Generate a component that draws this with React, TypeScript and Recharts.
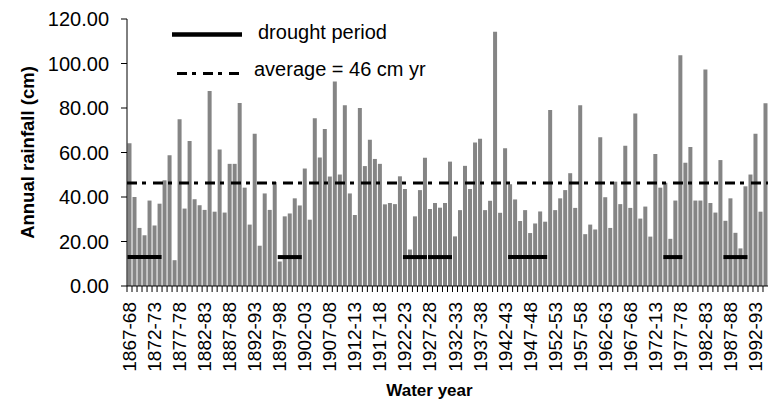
import { ComposedChart, Bar, XAxis, YAxis, ReferenceLine, Legend } from 'recharts';

// annual rainfall (cm), one value per water year starting 1867-68
const firstYear = 1867;
const rainfall = [
  64.2, 40.0, 26.1, 22.8, 38.4, 27.2, 37.0, 47.5, 58.8, 11.6,
  74.9, 34.8, 65.2, 39.0, 36.3, 34.2, 87.6, 33.4, 61.3, 33.0,
  54.9, 54.9, 82.2, 44.2, 27.6, 68.4, 18.1, 41.6, 34.2, 46.7,
  11.0, 31.3, 32.6, 39.4, 36.2, 52.8, 29.8, 75.4, 57.7, 70.6,
  49.2, 91.9, 50.1, 81.2, 41.6, 31.9, 80.0, 53.9, 65.7, 57.1,
  54.9, 36.7, 37.3, 36.8, 49.3, 43.6, 16.4, 31.3, 43.1, 57.6,
  34.6, 37.3, 35.2, 37.3, 55.9, 22.3, 34.1, 54.0, 43.6, 64.5,
  66.2, 34.1, 38.3, 114.3, 32.9, 61.9, 45.7, 38.9, 29.2, 34.1,
  23.8, 28.1, 33.5, 28.9, 79.1, 34.1, 39.4, 43.1, 50.7, 35.1,
  81.2, 23.3, 27.6, 25.4, 66.9, 39.9, 26.1, 46.9, 36.8, 63.0,
  35.1, 77.5, 30.3, 35.7, 22.2, 59.3, 44.2, 46.4, 21.2, 38.4,
  103.7, 55.4, 62.5, 38.4, 38.4, 97.3, 37.3, 33.0, 56.6, 29.3,
  39.4, 23.9, 16.9, 44.8, 50.1, 68.4, 33.4, 82.1,
];

const waterYears = rainfall.map((_, i) => {
  const y = firstYear + i;
  return `${y}-${String((y + 1) % 100).padStart(2, '0')}`;
});

// every fifth year is labelled (typo "1972-13" is in the original)
const tickLabels = [
  '1867-68', '1872-73', '1877-78', '1882-83', '1887-88', '1892-93', '1897-98',
  '1902-03', '1907-08', '1912-13', '1917-18', '1922-23', '1927-28', '1932-33',
  '1937-38', '1942-43', '1947-48', '1952-53', '1957-58', '1962-63', '1967-68',
  '1972-13', '1977-78', '1982-83', '1987-88', '1992-93',
];

const droughtPeriods = [
  ['1867-68', '1873-74'],
  ['1897-98', '1901-02'],
  ['1922-23', '1926-27'],
  ['1927-28', '1931-32'],
  ['1943-44', '1950-51'],
  ['1974-75', '1977-78'],
  ['1986-87', '1990-91'],
];

const yTicks = [0, 20, 40, 60, 80, 100, 120];
const averageRainfall = 46.3;
const droughtLevel = 13;

const data = waterYears.map((year, i) => ({ year, rain: rainfall[i] }));

const font = 'Liberation Sans, Arial, sans-serif';
const dashDot = '10 5 4 7';

function YearTick(props: any) {
  const { x, y, payload } = props;
  const idx = payload?.index ?? props.index;
  const half = payload?.offset ?? 2.5;
  const axisY = y - 16;
  const label = idx % 5 === 0 ? tickLabels[idx / 5] : null;
  return (
    <g>
      <line x1={x - half} x2={x - half} y1={axisY} y2={axisY + 6} stroke="#000" />
      {label && (
        <text
          x={x}
          y={y}
          transform={`rotate(-90, ${x}, ${y})`}
          textAnchor="end"
          dominantBaseline="central"
          fontSize={19}
          fontFamily={font}
          fill="#000"
        >
          {label}
        </text>
      )}
    </g>
  );
}

function LegendBox() {
  return (
    <svg width={300} height={75} style={{ display: 'block' }}>
      <line x1={7} x2={77} y1={19.5} y2={19.5} stroke="#000" strokeWidth={4.5} />
      <text x={93} y={24} fontSize={20} fontFamily={font} fill="#000">drought period</text>
      <line x1={12} x2={75} y1={58.5} y2={58.5} stroke="#000" strokeWidth={3} strokeDasharray={dashDot} />
      <text x={89} y={61} fontSize={20} fontFamily={font} fill="#000">average = 46 cm yr</text>
    </svg>
  );
}

export default function App() {
  return (
    <div style={{ position: 'absolute', left: 0, top: 0, width: 775, height: 400, background: '#fff' }}>
      <ComposedChart
        width={775}
        height={400}
        data={data}
        margin={{ top: 19, right: 7, left: 0, bottom: 0 }}
        barCategoryGap="10%"
      >
        <XAxis
          dataKey="year"
          interval={0}
          height={114}
          tickSize={6}
          tickMargin={10}
          tickLine={false}
          tick={<YearTick />}
          axisLine={{ stroke: '#000' }}
          label={{
            value: 'Water year',
            position: 'insideBottom',
            offset: 4,
            dx: -18,
            style: { fontSize: 17, fontWeight: 'bold', fontFamily: font, fill: '#000' },
          }}
        />
        <YAxis
          domain={[0, 120]}
          ticks={yTicks}
          width={127}
          tickSize={6}
          tickMargin={12}
          tickFormatter={(v: number) => v.toFixed(2)}
          tick={{ fontSize: 20, fontFamily: font, fill: '#000' }}
          axisLine={{ stroke: '#000' }}
          tickLine={{ stroke: '#000' }}
          label={{
            value: 'Annual rainfall (cm)',
            angle: -90,
            position: 'insideLeft',
            offset: 27,
            style: { fontSize: 18.5, fontWeight: 'bold', fontFamily: font, fill: '#000', textAnchor: 'middle' },
          }}
        />
        <Legend
          layout="vertical"
          align="center"
          verticalAlign="middle"
          content={() => <LegendBox />}
          wrapperStyle={{ left: 165, top: 15, width: 300, height: 75 }}
        />
        <Bar dataKey="rain" fill="#858585" isAnimationActive={false} />
        <ReferenceLine y={averageRainfall} stroke="#000" strokeWidth={3} strokeDasharray={dashDot} />
        {droughtPeriods.map(([from, to]) => (
          <ReferenceLine
            key={from}
            segment={[{ x: from, y: droughtLevel }, { x: to, y: droughtLevel }]}
            stroke="#000"
            strokeWidth={4}
            strokeLinecap="square"
          />
        ))}
      </ComposedChart>
    </div>
  );
}
